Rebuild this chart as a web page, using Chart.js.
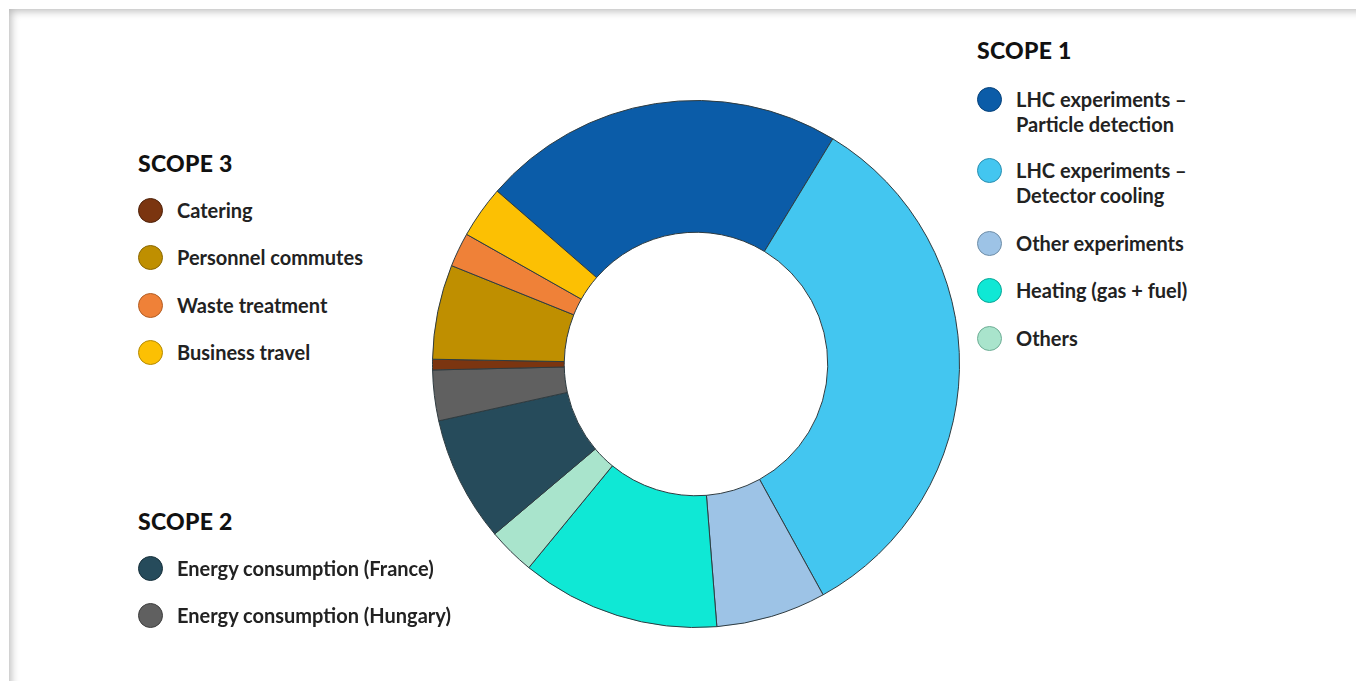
<!DOCTYPE html>
<html lang="en">
<head>
<meta charset="UTF-8" />
<title>CERN emissions by scope</title>
<script src="https://cdn.jsdelivr.net/npm/chart.js"></script>
<style>
  html, body { margin: 0; padding: 0; background: #fff; width: 1356px; height: 681px; overflow: hidden; }
  body { position: relative; font-family: Lato, "Open Sans", sans-serif; color: #1a1a1a; }
  .frame {
    position: absolute; left: 9px; top: 9px; right: 0; bottom: 0;
    background: #fff;
    box-shadow: inset 7px 7px 8px -5px rgba(0,0,0,0.28);
  }
  #wrap { position: absolute; left: 428px; top: 96px; width: 536px; height: 536px; }
  .heading { position: absolute; font-weight: 900; font-size: 23px; letter-spacing: 0.3px; line-height: 26px; color: #111; }
  .item { position: absolute; display: flex; align-items: flex-start; }
  .dot { width: 23px; height: 23px; border-radius: 50%; border: 1.5px solid; flex: none; margin-right: 14px; }
  .txt { font-weight: 700; font-size: 20px; line-height: 25px; color: #222; }
</style>
</head>
<body>
<div class="frame"></div>
<div id="wrap"><canvas id="donut"></canvas></div>
<div id="legend"></div>

<script>
// categories, clockwise from the top-left edge of the dark blue slice
const labels = [
  "LHC experiments – Particle detection",
  "LHC experiments – Detector cooling",
  "Other experiments",
  "Heating (gas + fuel)",
  "Others",
  "Energy consumption (France)",
  "Energy consumption (Hungary)",
  "Catering",
  "Personnel commutes",
  "Waste treatment",
  "Business travel"
];
// share of total, %
const values = [22.3, 33.3, 6.75, 12.2, 2.9, 7.7, 3.1, 0.65, 5.8, 2.1, 3.2];
const colors = [
  "#0b5ca8", "#43c6f0", "#9dc3e6", "#0fe8d5", "#a9e4cc",
  "#264b5b", "#606060", "#7b3510",
  "#bf8f00", "#ef8138", "#fcc003"
];
const borders = [
  "#07427a", "#2b8fb0", "#6f8ea8", "#0aa596", "#6fae96",
  "#17303b", "#3e3e3e", "#4f220a",
  "#8a6700", "#b35e24", "#b58a02"
];

// legend groups (index into labels) and where they sit
const scope1 = [0, 1, 2, 3, 4];
const scope2 = [5, 6];
const scope3 = [7, 8, 9, 10];
const legendLines = {
  0: ["LHC experiments –", "Particle detection"],
  1: ["LHC experiments –", "Detector cooling"]
};
const groups = [
  { title: "SCOPE 1", idx: scope1, x: 977, titleY: 37, rows: [87, 158, 231, 278, 326] },
  { title: "SCOPE 3", idx: scope3, x: 138, titleY: 150, rows: [198, 245, 293, 340] },
  { title: "SCOPE 2", idx: scope2, x: 138, titleY: 508, rows: [556, 603] }
];

const legend = document.getElementById("legend");
groups.forEach(g => {
  const h = document.createElement("div");
  h.className = "heading";
  h.style.left = g.x + "px";
  h.style.top = g.titleY + "px";
  h.textContent = g.title;
  legend.appendChild(h);
  g.idx.forEach((i, k) => {
    const it = document.createElement("div");
    it.className = "item";
    it.style.left = g.x + "px";
    it.style.top = g.rows[k] + "px";
    const dot = document.createElement("div");
    dot.className = "dot";
    dot.style.background = colors[i];
    dot.style.borderColor = borders[i];
    const t = document.createElement("div");
    t.className = "txt";
    t.innerHTML = (legendLines[i] || [labels[i]]).join("<br>");
    it.appendChild(dot);
    it.appendChild(t);
    legend.appendChild(it);
  });
});

new Chart(document.getElementById("donut").getContext("2d"), {
  type: "doughnut",
  data: {
    labels: labels,
    datasets: [{
      data: values,
      backgroundColor: colors,
      borderColor: "#2e3b40",
      borderWidth: 1
    }]
  },
  options: {
    responsive: true,
    maintainAspectRatio: false,
    animation: false,
    rotation: 311,
    cutout: "50%",
    layout: { padding: 4 },
    plugins: { legend: { display: false }, tooltip: { enabled: false } }
  }
});
</script>
</body>
</html>
